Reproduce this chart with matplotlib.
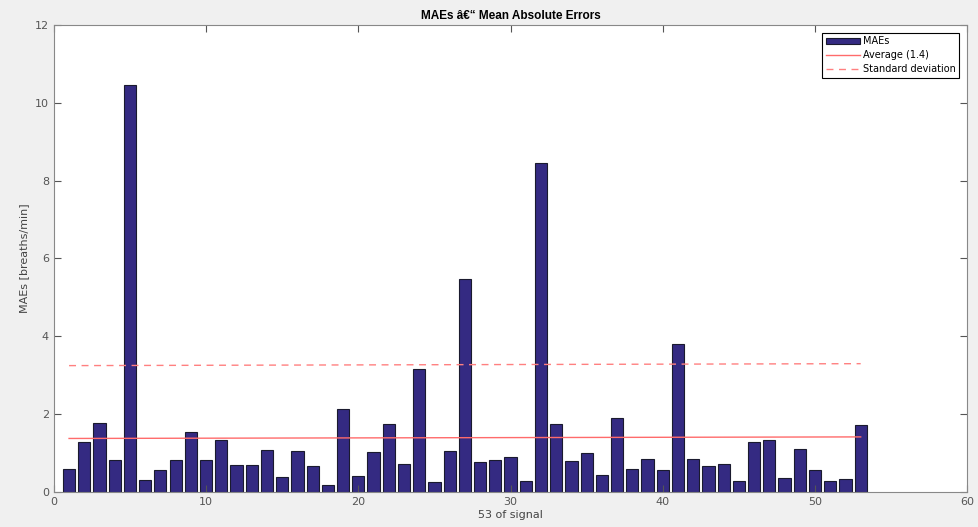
import numpy as np
import matplotlib
matplotlib.use("Agg")
import matplotlib.pyplot as plt

signals = np.arange(1, 54)
maes = [0.60, 1.29, 1.77, 0.82, 10.46, 0.31, 0.57, 0.82, 1.54, 0.82,
        1.34, 0.70, 0.69, 1.08, 0.39, 1.06, 0.67, 0.18, 2.13, 0.41,
        1.02, 1.74, 0.73, 3.17, 0.26, 1.06, 5.48, 0.77, 0.82, 0.90,
        0.30, 8.45, 1.75, 0.80, 1.00, 0.44, 1.91, 0.60, 0.85, 0.58,
        3.80, 0.85, 0.68, 0.72, 0.28, 1.28, 1.35, 0.36, 1.10, 0.57,
        0.28, 0.33, 1.72]
avg_line = [1.38, 1.42]
std_line = [3.25, 3.30]
line_x = [1, 53]

fig = plt.figure(figsize=(9.79, 5.27), dpi=100, facecolor="#f0f0f0")
ax = fig.add_axes([0.055, 0.066, 0.933, 0.887])

b = ax.bar(signals, maes, width=0.8, color="#342a82", edgecolor="#1a1a2e",
           linewidth=0.8, label="MAEs")
l1, = ax.plot(line_x, avg_line, color="#ff6b6b", lw=1, label="Average (1.4)")
l2, = ax.plot(line_x, std_line, color="#ff8080", lw=1, ls=(0, (5, 4)),
              label="Standard deviation")

ax.set_xlim(0, 60)
ax.set_ylim(0, 12)
ax.set_xticks(range(0, 61, 10))
ax.set_yticks(range(0, 13, 2))
ax.tick_params(direction="in", top=True, right=True, labelsize=8,
               colors="#555555", length=5)
for s in ax.spines.values():
    s.set_color("#888888")

ax.set_title("MAEs â€“ Mean Absolute Errors", fontsize=8.5, fontweight="bold",
             family="Liberation Sans", pad=4)
ax.set_xlabel("53 of signal", fontsize=8, color="#444444", labelpad=2)
ax.set_ylabel("MAEs [breaths/min]", fontsize=8, color="#444444")

leg = ax.legend([b, l1, l2], ["MAEs", "Average (1.4)", "Standard deviation"],
                loc="upper right", fontsize=7, fancybox=False,
                edgecolor="black", framealpha=1, handlelength=3.5,
                borderaxespad=0.8, labelspacing=0.4, handletextpad=0.3,
                borderpad=0.4)
leg.get_frame().set_linewidth(0.8)

fig.savefig("out.png", dpi=100, facecolor=fig.get_facecolor())
